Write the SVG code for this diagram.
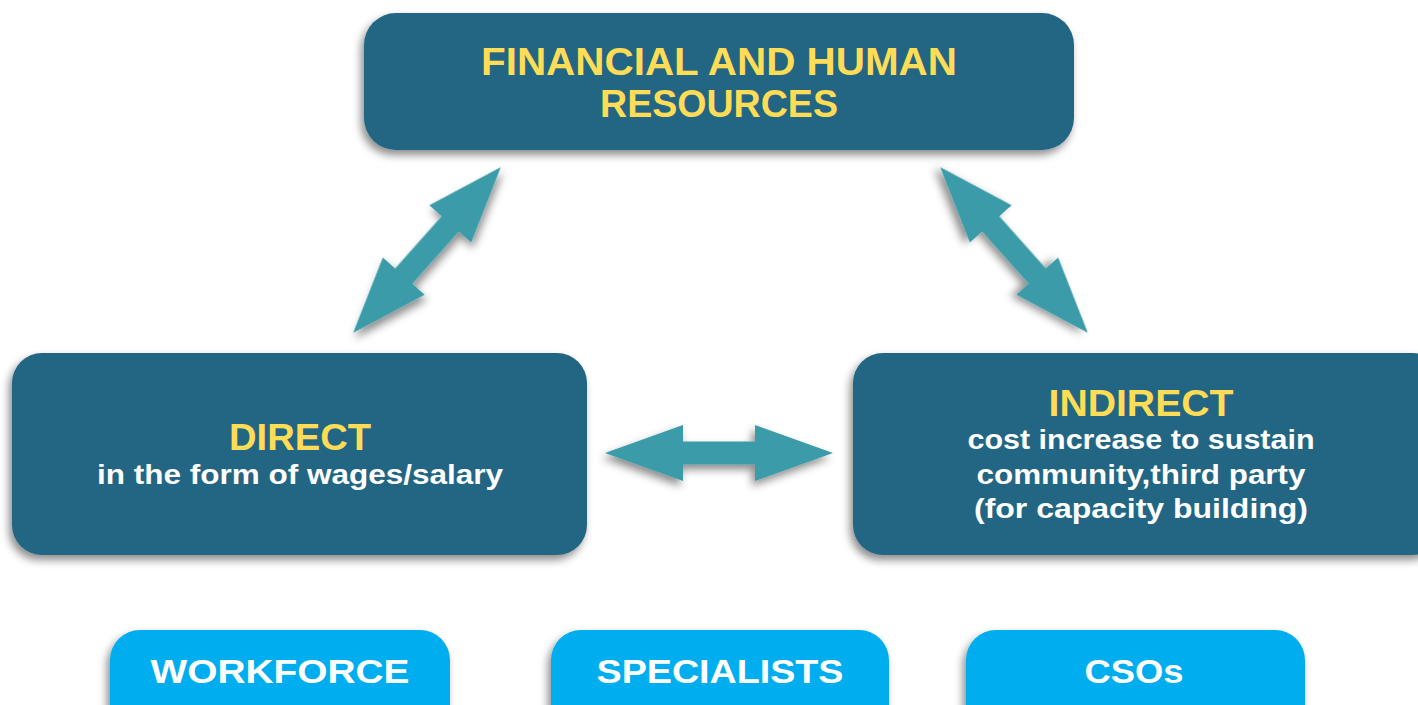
<svg xmlns="http://www.w3.org/2000/svg" width="1418" height="705" viewBox="0 0 1418 705">
  <defs>
    <filter id="shadow" x="-20%" y="-20%" width="140%" height="150%">
      <feDropShadow dx="-3" dy="5" stdDeviation="4" flood-color="#000" flood-opacity="0.45"/>
    </filter>
    <style>
      .box { fill: #236683; filter: url(#shadow); }
      .pill { fill: #00AEEF; filter: url(#shadow); }
      .arrow { fill: #3A9BA8; filter: url(#shadow); }
      .title { font-family: "Liberation Sans", Arial, sans-serif; font-weight: bold; fill: #FFDC55; text-anchor: middle; }
      .sub { font-family: "Liberation Sans", Arial, sans-serif; font-weight: bold; fill: #FFFFFF; text-anchor: middle; }
      .tag { font-family: "Liberation Sans", Arial, sans-serif; font-weight: bold; fill: #FFFFFF; text-anchor: middle; font-size: 34px; }
    </style>
  </defs>
  <rect width="1418" height="705" fill="#FFFFFF"/>

  <!-- connectors: double-headed block arrows -->
  <g id="connectors">
    <path class="arrow" transform="translate(427 250) rotate(-48.3)" d="M -111 0 L -35 -28 L -35 -11.5 L 35 -11.5 L 35 -28 L 111 0 L 35 28 L 35 11.5 L -35 11.5 L -35 28 Z"/>
    <path class="arrow" transform="translate(1014 250) rotate(48.3)" d="M -111 0 L -35 -28 L -35 -11.5 L 35 -11.5 L 35 -28 L 111 0 L 35 28 L 35 11.5 L -35 11.5 L -35 28 Z"/>
    <path class="arrow" transform="translate(719 453)" d="M -114 0 L -36 -28 L -36 -11.5 L 36 -11.5 L 36 -28 L 114 0 L 36 28 L 36 11.5 L -36 11.5 L -36 28 Z"/>
  </g>

  <g id="resources">
    <rect class="box" x="364" y="13" width="710" height="137" rx="32"/>
    <text class="title" x="719" y="75" font-size="38" textLength="476" lengthAdjust="spacingAndGlyphs">FINANCIAL AND HUMAN</text>
    <text class="title" x="719" y="117" font-size="38" textLength="238" lengthAdjust="spacingAndGlyphs">RESOURCES</text>
  </g>

  <g id="direct">
    <rect class="box" x="12" y="353" width="575" height="202" rx="30"/>
    <text class="title" x="300" y="450" font-size="36" textLength="142" lengthAdjust="spacingAndGlyphs">DIRECT</text>
    <text class="sub" x="300" y="484" font-size="27" textLength="406" lengthAdjust="spacingAndGlyphs">in the form of wages/salary</text>
  </g>

  <g id="indirect">
    <rect class="box" x="853" y="353" width="590" height="202" rx="30"/>
    <text class="title" x="1141" y="416" font-size="36" textLength="185" lengthAdjust="spacingAndGlyphs">INDIRECT</text>
    <text class="sub" x="1141" y="449" font-size="27" textLength="347" lengthAdjust="spacingAndGlyphs">cost increase to sustain</text>
    <text class="sub" x="1141" y="484" font-size="27" textLength="329" lengthAdjust="spacingAndGlyphs">community,third party</text>
    <text class="sub" x="1141" y="518" font-size="27" textLength="334" lengthAdjust="spacingAndGlyphs">(for capacity building)</text>
  </g>

  <g id="workforce">
    <rect class="pill" x="110" y="630" width="340" height="110" rx="30"/>
    <text class="tag" x="280" y="683" textLength="259" lengthAdjust="spacingAndGlyphs">WORKFORCE</text>
  </g>

  <g id="specialists">
    <rect class="pill" x="551" y="630" width="338" height="110" rx="30"/>
    <text class="tag" x="720" y="683" textLength="247" lengthAdjust="spacingAndGlyphs">SPECIALISTS</text>
  </g>

  <g id="csos">
    <rect class="pill" x="966" y="630" width="339" height="110" rx="30"/>
    <text class="tag" x="1134" y="683" textLength="99" lengthAdjust="spacingAndGlyphs">CSOs</text>
  </g>
</svg>
